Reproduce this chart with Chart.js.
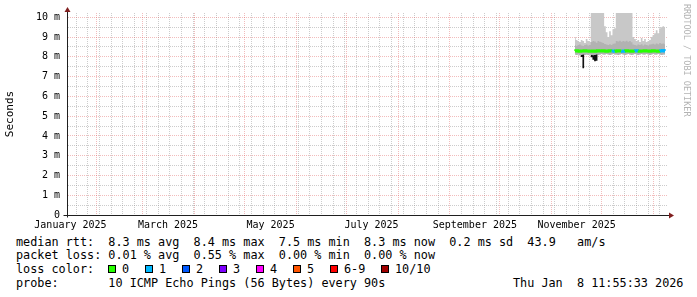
<!DOCTYPE html>
<html>
<head>
<meta charset="utf-8">
<script src="https://cdn.jsdelivr.net/npm/chart.js@4.4.1/dist/chart.umd.min.js"></script>
<style>
    body { margin: 0; background: #fff; }
    #wrap { position: relative; width: 697px; height: 297px; font-family: 'DejaVu Sans Mono', monospace; color: #000; }
    #chart { position: absolute; left: 0; top: 0; }
    .line { position: absolute; font-size: 11.8px; line-height: 14px; white-space: pre; }
    .box { position: absolute; width: 6px; height: 6px; border: 1px solid #000; }
    #mark { position: absolute; left: 682px; top: 4px; writing-mode: vertical-rl; font-size: 8.5px; color: #b3b3b3; white-space: pre; }
</style>
</head>
<body>
<div id="wrap">
    <canvas id="chart" width="697" height="235"></canvas>
    <div id="mark">RRDTOOL / TOBI OETIKER</div>
    <div class="line" style="left:16px; top:235px">median rtt:  8.3 ms avg  8.4 ms max  7.5 ms min  8.3 ms now  0.2 ms sd  43.9   am/s</div>
    <div class="line" style="left:16px; top:248px">packet loss: 0.01 % avg  0.55 % max  0.00 % min  0.00 % now</div>
    <div class="line" style="left:16px; top:262px">loss color:</div>
    <div id="lossLegend"></div>
    <div class="line" style="left:16px; top:276px">probe:       10 ICMP Echo Pings (56 Bytes) every 90s</div>
    <div class="line" style="left:513px; top:276px">Thu Jan  8 11:55:33 2026</div>
</div>
<script>
// day number counted from 1 January 2025 (day 0)
const days = [318, 319, 320, 321, 322, 323, 324, 325, 326, 327,
    328, 329, 330, 331, 332, 333, 334, 335,
    336, 337, 338, 339, 340, 341, 342,
    343, 344, 345, 346, 347, 348, 349, 350, 351, 352,
    353, 354, 355, 356, 357, 358, 359, 360, 361, 362,
    363, 364, 365, 366, 367, 368, 369, 370, 371, 372];

// values in milliseconds
const maxRtt = [9.00, 8.85, 8.80, 8.75, 8.85, 8.80, 8.70, 8.90, 8.80, 8.75,
    10.4, 10.4, 10.4, 10.4, 10.4, 10.4, 10.4, 10.4,
    9.55, 9.25, 9.00, 9.30, 9.10, 9.40, 9.45,
    10.4, 10.4, 10.4, 10.4, 10.4, 10.4, 10.4, 10.4, 10.4, 10.4,
    9.00, 8.90, 8.80, 8.85, 8.75, 8.95, 8.80, 8.90, 8.75, 8.80,
    8.85, 9.00, 9.10, 9.20, 9.35, 9.20, 9.45, 9.50, 9.55, 9.50];

const upperBand = [8.60, 8.55, 8.60, 8.62, 8.58, 8.55, 8.60, 8.62, 8.58, 8.60,
    8.75, 8.80, 8.78, 8.72, 8.80, 8.76, 8.74, 8.70,
    8.65, 8.62, 8.60, 8.64, 8.60, 8.66, 8.68,
    8.80, 8.78, 8.82, 8.76, 8.80, 8.78, 8.82, 8.76, 8.80, 8.74,
    8.62, 8.60, 8.58, 8.62, 8.60, 8.64, 8.58, 8.62, 8.60, 8.58,
    8.62, 8.64, 8.66, 8.62, 8.68, 8.64, 8.70, 8.66, 8.68, 8.64];

const lowerBand = [8.12, 8.10, 8.12, 8.08, 8.10, 8.12, 8.10, 8.12, 8.10, 8.12,
    8.10, 8.08, 8.10, 8.12, 8.10, 8.12, 8.14, 8.12,
    8.12, 8.14, 8.12, 8.10, 8.12, 8.14, 8.12,
    8.12, 8.10, 8.12, 8.14, 8.12, 8.10, 8.12, 8.14, 8.12, 8.10,
    8.12, 8.14, 8.12, 8.10, 8.12, 8.14, 8.12, 8.12, 8.14, 8.12,
    8.10, 8.12, 8.14, 8.12, 8.12, 8.14, 8.12, 8.10, 8.12, 8.12];

const minRtt = [8.12, 8.10, 8.12, 8.08, 8.00, 7.42, 8.10, 8.12, 8.10, 8.12,
    7.98, 7.85, 7.78, 7.80, 8.10, 8.12, 8.14, 8.12,
    8.12, 8.14, 8.12, 8.10, 8.12, 8.14, 8.12,
    8.12, 8.10, 8.12, 8.14, 8.12, 8.10, 8.12, 8.14, 8.12, 8.10,
    8.12, 8.14, 8.12, 8.10, 8.12, 8.14, 8.12, 8.12, 8.14, 8.12,
    8.10, 8.12, 8.14, 8.12, 8.12, 8.14, 8.12, 8.10, 8.12, 8.12];

const medianRtt = [8.30, 8.31, 8.30, 8.29, 8.30, 8.30, 8.31, 8.30, 8.30, 8.29,
    8.28, 8.30, 8.29, 8.30, 8.31, 8.30, 8.30, 8.31,
    8.30, 8.29, 8.30, 8.31, 8.30, 8.30, 8.29,
    8.30, 8.31, 8.30, 8.30, 8.29, 8.30, 8.31, 8.30, 8.30, 8.29,
    8.30, 8.30, 8.31, 8.30, 8.29, 8.30, 8.30, 8.31, 8.30, 8.30,
    8.29, 8.30, 8.31, 8.30, 8.30, 8.29, 8.30, 8.31, 8.32, 8.30];

// lost pings out of 10 per sample
const lossCount = [0, 0, 0, 0, 0, 0, 0, 0, 0, 0,
    0, 0, 0, 0, 0, 0, 0, 0,
    0, 0, 0, 0, 0, 1, 0,
    0, 0, 0, 0, 1, 0, 0, 0, 0, 0,
    0, 0, 1, 0, 0, 0, 0, 0, 0, 0,
    0, 0, 0, 0, 0, 0, 0, 1, 1, 0];

const lossLabels = ['0', '1', '2', '3', '4', '5', '6-9', '10/10'];
const lossColors = ['#26ff00', '#00b8ff', '#0059ff', '#7e00ff', '#ff00ff', '#ff5500', '#ff0000', '#a10000'];

// x axis: first of each month, label at mid month
const monthStarts = [31, 59, 90, 120, 151, 181, 212, 243, 273, 304, 334, 365];
const labelDays = [15.5, 74, 135.5, 196, 258, 319];
const monthLabels = ['January 2025', 'March 2025', 'May 2025', 'July 2025', 'September 2025', 'November 2025'];
const yLabels = ['0', '1 m', '2 m', '3 m', '4 m', '5 m', '6 m', '7 m', '8 m', '9 m', '10 m'];

const xMin = 13.43, xMax = 373.8;
const yMax = 10.22;

const monoFont = "'DejaVu Sans Mono', monospace";
const gridGray = 'rgba(143,143,143,0.45)';
const gridRed = 'rgba(222,79,79,0.38)';
const axisColor = '#1f1f1f';
const arrowColor = '#801f1f';

// weekly grid on mondays (6 Jan 2025 is day 5)
const weekDays = [];
for (let d = 5; d <= xMax; d += 7) {
    if (d >= xMin) weekDays.push(d);
}

const near = (list, v) => list.some(d => Math.abs(d - v) < 0.01);

function pts(values) {
    return days.map((d, i) => ({ x: d, y: values[i] }));
}

// loss colour boxes under the chart
const lossLegend = document.getElementById('lossLegend');
lossLabels.forEach((lbl, i) => {
    const left = i < 7 ? 108 + 37 * i : 381;
    const box = document.createElement('div');
    box.className = 'box';
    box.style.left = left + 'px';
    box.style.top = '265px';
    box.style.background = lossColors[i];
    lossLegend.appendChild(box);
    const txt = document.createElement('div');
    txt.className = 'line';
    txt.style.left = (left + 14) + 'px';
    txt.style.top = '262px';
    txt.textContent = lbl;
    lossLegend.appendChild(txt);
});

const axisArrows = {
    id: 'axisArrows',
    afterDraw(chart) {
        const { ctx, chartArea: a } = chart;
        const x0 = Math.round(a.left) + 0.5;
        const y0 = Math.round(a.bottom) + 0.5;
        ctx.save();
        ctx.strokeStyle = axisColor;
        ctx.lineWidth = 1;
        ctx.beginPath();
        ctx.moveTo(x0, y0 + 2);
        ctx.lineTo(x0, a.top - 4);
        ctx.moveTo(x0 - 4, y0);
        ctx.lineTo(a.right + 3, y0);
        ctx.stroke();
        ctx.fillStyle = arrowColor;
        ctx.beginPath();
        ctx.moveTo(x0 - 3, a.top - 1);
        ctx.lineTo(x0 + 3, a.top - 1);
        ctx.lineTo(x0, a.top - 6);
        ctx.closePath();
        ctx.fill();
        ctx.beginPath();
        ctx.moveTo(a.right + 1, y0 - 3);
        ctx.lineTo(a.right + 1, y0 + 3);
        ctx.lineTo(a.right + 6, y0);
        ctx.closePath();
        ctx.fill();
        ctx.restore();
    }
};

const hidden = { pointRadius: 0, borderWidth: 0, borderColor: 'rgba(0,0,0,0)', stepped: 'middle' };

new Chart(document.getElementById('chart'), {
    type: 'line',
    data: {
        datasets: [
            {
                label: 'median rtt',
                data: pts(medianRtt),
                borderColor: lossColors[0],
                borderWidth: 3,
                pointRadius: 0,
                stepped: 'middle',
                fill: false,
                order: 0,
                segment: {
                    borderColor: c => (lossCount[c.p0DataIndex] > 0 || lossCount[c.p1DataIndex] > 0) ? lossColors[1] : lossColors[0]
                }
            },
            { ...hidden, label: 'max', data: pts(maxRtt), fill: 3, backgroundColor: '#c8c8c8', order: 4 },
            { ...hidden, label: 'upper', data: pts(upperBand), fill: 3, backgroundColor: '#b2b2b2', order: 3 },
            { ...hidden, label: 'lower', data: pts(lowerBand), fill: false, order: 5 },
            { ...hidden, label: 'min', data: pts(minRtt), fill: 3, backgroundColor: '#111111', order: 2 }
        ]
    },
    options: {
        responsive: false,
        animation: false,
        events: [],
        layout: { padding: { left: 0, right: 29, top: 13, bottom: 0 } },
        plugins: { legend: { display: false }, tooltip: { enabled: false } },
        scales: {
            x: {
                type: 'linear',
                min: xMin,
                max: xMax,
                afterFit: s => { s.height = 20; },
                afterBuildTicks: s => {
                    const vals = [...new Set([...weekDays, ...monthStarts, ...labelDays])].sort((a, b) => a - b);
                    s.ticks = vals.map(v => ({ value: v }));
                },
                ticks: {
                    autoSkip: false,
                    maxRotation: 0,
                    padding: 4,
                    color: '#000',
                    font: { family: monoFont, size: 10 },
                    callback: v => {
                        const i = labelDays.findIndex(d => Math.abs(d - v) < 0.01);
                        return i >= 0 ? monthLabels[i] : '';
                    }
                },
                grid: {
                    drawTicks: false,
                    lineWidth: 1,
                    color: c => {
                        const v = c.tick.value;
                        if (near(monthStarts, v)) return gridRed;
                        if (near(labelDays, v)) return 'rgba(0,0,0,0)';
                        return gridGray;
                    }
                },
                border: { display: true, color: axisColor, dash: [1, 1] }
            },
            y: {
                min: 0,
                max: yMax,
                afterFit: s => { s.width = 67; },
                afterBuildTicks: s => {
                    const vals = [];
                    for (let k = 0; k <= 20; k++) vals.push(k / 2);
                    s.ticks = vals.map(v => ({ value: v }));
                },
                ticks: {
                    autoSkip: false,
                    padding: 7,
                    color: '#000',
                    font: { family: monoFont, size: 10 },
                    callback: v => Number.isInteger(v) ? yLabels[v] : ''
                },
                grid: {
                    drawTicks: false,
                    lineWidth: 1,
                    color: c => {
                        const v = c.tick.value;
                        if (v === 0) return 'rgba(0,0,0,0)';
                        return Number.isInteger(v) ? gridRed : gridGray;
                    }
                },
                border: { display: true, color: axisColor, dash: [1, 1] },
                title: {
                    display: true,
                    text: 'Seconds',
                    color: '#000',
                    font: { family: monoFont, size: 11 },
                    padding: { top: 4, bottom: 0 }
                }
            }
        }
    },
    plugins: [axisArrows]
});
</script>
</body>
</html>
